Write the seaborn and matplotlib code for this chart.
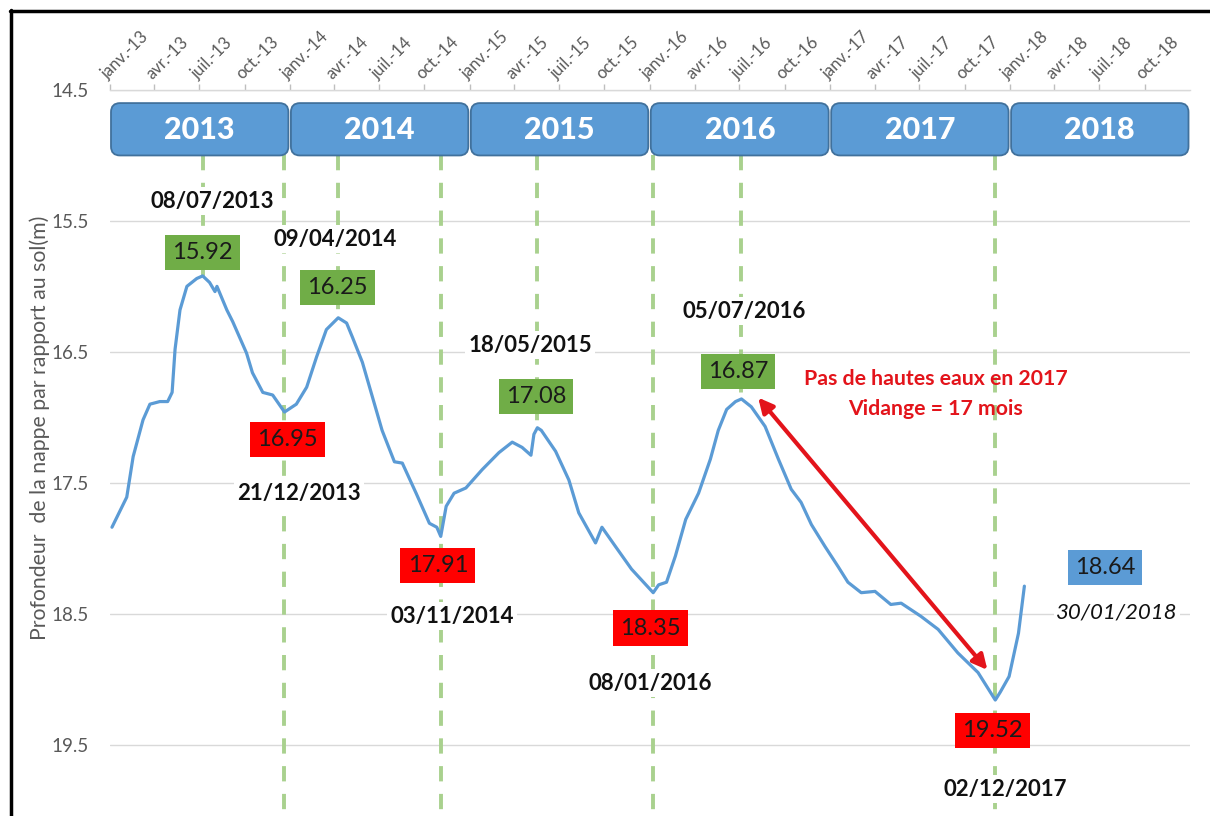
import matplotlib
matplotlib.use("Agg")
import matplotlib.pyplot as plt
import matplotlib.dates as mdates
from matplotlib.patches import FancyBboxPatch
from matplotlib.lines import Line2D
import pandas as pd
import seaborn as sns

# ---------------- data ----------------
obs_dates = [
    "2013-01-05", "2013-02-04", "2013-02-17", "2013-03-09", "2013-03-23", "2013-04-12",
    "2013-04-28", "2013-05-07", "2013-05-13", "2013-05-23", "2013-06-06", "2013-06-26",
    "2013-07-08", "2013-07-22", "2013-08-02", "2013-08-06", "2013-08-26", "2013-09-07",
    "2013-10-05", "2013-10-17", "2013-11-07", "2013-11-27", "2013-12-21", "2014-01-14",
    "2014-02-04", "2014-02-24", "2014-03-16", "2014-04-09", "2014-04-26", "2014-05-08",
    "2014-05-28", "2014-06-17", "2014-07-07", "2014-08-01", "2014-08-17", "2014-09-14",
    "2014-10-11", "2014-10-26", "2014-11-03", "2014-11-14", "2014-11-30", "2014-12-24",
    "2015-01-26", "2015-03-01", "2015-03-28", "2015-04-17", "2015-05-05", "2015-05-11",
    "2015-05-18", "2015-05-26", "2015-06-24", "2015-07-21", "2015-08-10", "2015-09-13",
    "2015-09-26", "2015-10-24", "2015-11-25", "2016-01-08", "2016-01-19", "2016-02-04",
    "2016-02-22", "2016-03-14", "2016-04-09", "2016-05-03", "2016-05-19", "2016-06-05",
    "2016-06-23", "2016-07-05", "2016-07-25", "2016-08-22", "2016-09-18", "2016-10-14",
    "2016-11-03", "2016-11-24", "2016-12-22", "2017-01-17", "2017-02-06", "2017-03-05",
    "2017-04-02", "2017-05-04", "2017-05-25", "2017-07-04", "2017-08-08", "2017-09-17",
    "2017-10-28", "2017-12-02", "2017-12-12", "2017-12-30", "2018-01-18", "2018-01-30",
]
obs_depth = [
    17.84, 17.61, 17.30, 17.02, 16.90, 16.88,
    16.88, 16.81, 16.48, 16.18, 16.00, 15.94,
    15.92, 15.97, 16.04, 16.00, 16.18, 16.27,
    16.51, 16.66, 16.81, 16.83, 16.96, 16.90,
    16.77, 16.54, 16.33, 16.24, 16.28, 16.39,
    16.58, 16.84, 17.10, 17.34, 17.35, 17.58,
    17.81, 17.84, 17.91, 17.68, 17.58, 17.54,
    17.40, 17.27, 17.19, 17.23, 17.29, 17.13,
    17.08, 17.10, 17.26, 17.48, 17.73, 17.96,
    17.84, 17.99, 18.16, 18.34, 18.28, 18.26,
    18.06, 17.78, 17.58, 17.32, 17.10, 16.94,
    16.88, 16.86, 16.92, 17.07, 17.32, 17.55,
    17.65, 17.82, 17.99, 18.14, 18.26, 18.34,
    18.33, 18.43, 18.42, 18.52, 18.62, 18.80,
    18.95, 19.16, 19.10, 18.98, 18.65, 18.29,
]

years = ["2013", "2014", "2015", "2016", "2017", "2018"]
tick_labels = [
    "janv.-13", "avr.-13", "juil.-13", "oct.-13",
    "janv.-14", "avr.-14", "juil.-14", "oct.-14",
    "janv.-15", "avr.-15", "juil.-15", "oct.-15",
    "janv.-16", "avr.-16", "juil.-16", "oct.-16",
    "janv.-17", "avr.-17", "juil.-17", "oct.-17",
    "janv.-18", "avr.-18", "juil.-18", "oct.-18",
]
y_ticks = [14.5, 15.5, 16.5, 17.5, 18.5, 19.5]

# extremes (hautes / basses eaux)
ext_dates = ["2013-07-08", "2013-12-21", "2014-04-09", "2014-11-03",
             "2015-05-18", "2016-01-08", "2016-07-05", "2017-12-02"]
ext_depth = [15.92, 16.96, 16.24, 17.91, 17.08, 18.34, 16.86, 19.16]
ext_values = ["15.92", "16.95", "16.25", "17.91", "17.08", "18.35", "16.87", "19.52"]
ext_kind = ["high", "low", "high", "low", "high", "low", "high", "low"]
ext_date_text = ["08/07/2013", "21/12/2013", "09/04/2014", "03/11/2014",
                 "18/05/2015", "08/01/2016", "05/07/2016", "02/12/2017"]
last_value = "18.64"
last_date_text = "30/01/2018"
note_lines = ["Pas de hautes eaux en 2017", "Vidange = 17 mois"]

# ---------------- layout (annotation placement) ----------------
box_pos = [("2013-07-08", 15.74), ("2013-12-27", 17.17), ("2014-04-07", 16.01),
           ("2014-10-28", 18.13), ("2015-05-15", 16.84), ("2016-01-02", 18.61),
           ("2016-06-28", 16.65), ("2017-11-26", 19.39)]
date_pos = [("2013-07-28", 15.35), ("2014-01-20", 17.58), ("2014-04-03", 15.64),
            ("2014-11-26", 18.52), ("2015-05-03", 16.45), ("2016-01-02", 19.03),
            ("2016-07-10", 16.19), ("2017-12-22", 19.84)]
last_box_pos = ("2018-07-13", 18.15)
last_date_pos = ("2018-08-06", 18.49)
note_pos = [("2017-08-03", 16.71), ("2017-08-03", 16.94)]
arrow_tail = ("2016-08-08", 16.85)
arrow_head = ("2017-11-16", 18.93)

BLUE = "#5B9BD5"
GREEN_BOX = "#70AD47"
RED_BOX = "#FF0000"
DASH_GREEN = "#A9D18E"
GRID = "#D9D9D9"
GREY_TXT = "#595959"
RED_TXT = "#E3141B"

sns.set_theme(style="white")
plt.rcParams["font.family"] = ["Lato", "DejaVu Sans"]

W, H = 1210, 816
fig = plt.figure(figsize=(W / 100, H / 100), dpi=100)
fig.patch.set_facecolor("white")
ax = fig.add_axes([110 / W, 6 / H, 1080 / W, 720 / H])

df = pd.DataFrame({"date": pd.to_datetime(obs_dates), "depth": obs_depth})
sns.lineplot(data=df, x="date", y="depth", ax=ax, color=BLUE, linewidth=2.3, zorder=3)

x0 = pd.Timestamp("2013-01-01")
x1 = pd.Timestamp("2019-01-01")
ax.set_xlim(x0, x1)
ax.set_ylim(20, 14.5)
ax.set_xlabel("")
ax.set_ylabel("")

# axes styling
for s in ["left", "right", "bottom"]:
    ax.spines[s].set_visible(False)
ax.spines["top"].set_visible(True)
ax.spines["top"].set_color(GRID)
ax.spines["top"].set_linewidth(1)
ax.set_yticks(y_ticks)
ax.set_yticklabels([f"{v:.1f}" for v in y_ticks])
ax.yaxis.grid(True, color=GRID, linewidth=1)
ax.xaxis.grid(False)
ax.tick_params(axis="y", length=0, pad=15, labelsize=13.5, labelcolor=GREY_TXT)

ticks = pd.date_range("2013-01-01", "2018-10-01", freq="QS")
ax.xaxis.tick_top()
ax.set_xticks(ticks)
ax.set_xticklabels(tick_labels, rotation=45, ha="left", va="bottom",
                   rotation_mode="anchor", color=GREY_TXT, fontsize=12)
ax.tick_params(axis="x", top=True, bottom=False, direction="out", length=4,
               color="#BFBFBF", width=1, pad=2)

def dn(d):
    return mdates.date2num(pd.Timestamp(d))

def to_axes(d, y):
    disp = ax.transData.transform((dn(d), y))
    return ax.transAxes.inverted().transform(disp)

# year boxes
for yr in years:
    a = to_axes(f"{yr}-01-01", 15.0)
    b = to_axes(f"{yr}-12-31", 14.6)
    r = 9 / 1080
    box = FancyBboxPatch((a[0] + 1 / 1080, a[1]), b[0] - a[0] - 2 / 1080, b[1] - a[1],
                         boxstyle=f"round,pad=0,rounding_size={r}",
                         mutation_aspect=1.5, transform=ax.transAxes,
                         facecolor=BLUE, edgecolor="#41719C", linewidth=1.3,
                         clip_on=False, zorder=6)
    ax.add_patch(box)
    mid = pd.Timestamp(f"{yr}-07-02")
    ax.text(dn(mid), 14.805, yr, ha="center", va="center", color="white",
            fontsize=22, fontweight="black", zorder=7)

# dashed markers
dash = (0, (11 / 2.8, 9 / 2.8))
for d, v, k in zip(ext_dates, ext_depth, ext_kind):
    yb = v if k == "high" else 20
    ax.vlines(pd.Timestamp(d), 15.0, yb, colors=DASH_GREEN, linewidth=2.8,
              linestyles=[dash], zorder=2)

# value boxes
for (d, y), txt, k in zip(box_pos, ext_values, ext_kind):
    fc = GREEN_BOX if k == "high" else RED_BOX
    ax.text(dn(d), y, txt, ha="center", va="center", fontsize=17, color="#1A1A1A",
            zorder=8, bbox=dict(boxstyle="square,pad=0.3", fc=fc, ec="none"))
ax.text(dn(last_box_pos[0]), last_box_pos[1], last_value, ha="center", va="center",
        fontsize=17, color="#1A1A1A", zorder=8,
        bbox=dict(boxstyle="square,pad=0.3", fc=BLUE, ec="none"))

# date labels
for (d, y), txt in zip(date_pos, ext_date_text):
    ax.text(dn(d), y, txt, ha="center", va="center", fontsize=16, fontweight="bold",
            color="#111111", zorder=5,
            bbox=dict(boxstyle="square,pad=0.15", fc="white", ec="none"))
ax.text(dn(last_date_pos[0]), last_date_pos[1], last_date_text, ha="center", va="center",
        fontsize=16, fontstyle="italic", color="#111111", zorder=5,
        bbox=dict(boxstyle="square,pad=0.1", fc="white", ec="none"))

# note + arrow
for (d, y), txt in zip(note_pos, note_lines):
    ax.text(dn(d), y, txt, ha="center", va="center", fontsize=15.3, fontweight="bold",
            color=RED_TXT, zorder=5)
ax.annotate("", xy=(dn(arrow_head[0]), arrow_head[1]),
            xytext=(dn(arrow_tail[0]), arrow_tail[1]),
            arrowprops=dict(arrowstyle="<|-|>", color=RED_TXT, lw=3,
                            mutation_scale=22, shrinkA=0, shrinkB=0), zorder=6)

# y label
fig.text(40 / W, 1 - 428 / H, "Profondeur  de la nappe par rapport au sol(m)",
         rotation=90, ha="center", va="center", color=GREY_TXT, fontsize=15.3)

# outer frame (top & left visible)
fig.add_artist(Line2D([10 / W, 1.0], [1 - 11 / H, 1 - 11 / H], color="black",
                      linewidth=2.5, transform=fig.transFigure))
fig.add_artist(Line2D([11 / W, 11 / W], [0, 1 - 10 / H], color="black",
                      linewidth=2.5, transform=fig.transFigure))

fig.savefig("out.png", dpi=100, facecolor="white")
